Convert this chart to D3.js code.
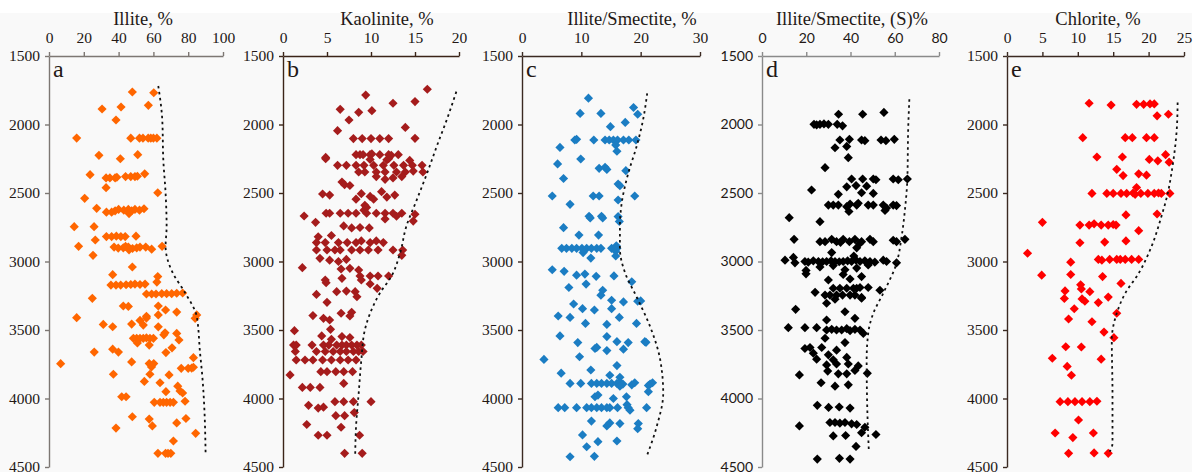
<!DOCTYPE html>
<html>
<head>
<meta charset="utf-8">
<script src="https://cdn.jsdelivr.net/npm/d3@7"></script>
<style>
  body { margin: 0; background: #fff; }
  svg { display: block; }
</style>
</head>
<body>
<svg id="chart" width="1196" height="472"></svg>
<script>
// depth axis (m), shared by all panels
const depthTicks = [1500, 2000, 2500, 3000, 3500, 4000, 4500];

// [value %, depth m]
const illite = [
  [47.9,1763],[60.2,1768],[30.5,1887],[41.4,1872],[57.1,1860],[38.5,1967],[15.9,2099],
  [47,2100],[52,2100],[54,2100],[57,2100],[58.5,2100],[60,2100],[62,2100],
  [28.7,2225],[41,2250],[51,2220],
  [23.6,2366],[32.8,2390],[35,2390],[38,2390],[39,2385],[44,2380],[47,2380],[49.4,2380],[50.8,2378],[55,2360],
  [32.8,2461],[62.5,2498],[20.5,2539],[27.4,2612],
  [33,2640],[36,2640],[38,2630],[40,2620],[43,2625],[45.6,2620],[47.5,2630],[49.4,2620],[52,2625],[54.6,2615],[46,2650],
  [14.5,2746],[25.9,2746],[26.6,2843],[17,2889],
  [33,2818],[36,2818],[38.7,2815],[41.3,2818],[43.8,2818],[50,2815],
  [37.4,2895],[39.8,2902],[42.7,2900],[45.6,2895],[48,2905],[50.4,2900],[52.3,2895],[55.6,2895],[59,2910],[46,2915],[44,2890],
  [65,2889],[25.3,2955],[47.9,3040],[36.6,3096],[62.5,3110],[62,3150],
  [35.6,3172],[38.5,3172],[41.2,3172],[44.3,3170],[47,3168],[49.4,3165],[52.3,3168],[55.2,3165],
  [56,3237],[59,3237],[61.5,3237],[64.8,3235],[67.6,3235],[70.5,3235],[73.4,3232],[76.8,3230],
  [24.9,3269],[42.7,3325],[45.6,3328],[62.8,3325],[67,3354],[73.4,3369],[15.9,3410],[84.9,3390],[56,3400],
  [31.2,3459],[36.6,3476],[47.5,3457],[52.3,3430],[54.2,3464],[56,3413],[62.8,3390],[62.8,3477],[66.7,3520],[66,3535],[73.4,3525],[74.7,3573],[84,3415],
  [48.5,3561],[50.4,3561],[52.3,3561],[54.2,3561],[56,3558],[58,3561],[60,3561],[50.8,3595],[57.6,3610],
  [26,3661],[36.6,3640],[39.9,3661],[67.2,3665],[70.7,3630],[83,3702],[6.7,3746],[47.5,3733],[57.6,3745],[58.9,3770],[60.2,3745],
  [76,3780],[80,3780],[82,3778],[83,3772],[37,3823],[58,3823],[69,3828],[54.8,3875],[63.8,3885],[74,3910],[75.3,3945],[76.8,3960],[67.2,3950],
  [41.8,3987],[44.3,3987],[60.5,4028],[63.8,4028],[65.7,4028],[67.6,4028],[69.6,4028],[71.5,4028],[78.2,4020],
  [47.9,4133],[57.6,4150],[59.4,4200],[78.7,4146],[73.4,4178],[38.5,4216],[84.3,4254],[71.5,4310],[62.6,4400],[67,4400],[68.4,4400],[70,4400]
];
const illiteEnvelope = [[62.8,1719],[65.1,1967],[65.7,2260],[67,2500],[67.6,2745],[67,2890],[71,3080],[78.3,3230],[84.9,3400],[86.8,3666],[88.1,3836],[89.3,4080],[90,4400]];

const kaolinite = [
  [16.4,1743],[9.4,1785],[12.5,1845],[15,1833],[6.5,1889],[8.6,1911],[10.1,1899],[7.5,1967],[6.2,2045],[13.9,2021],[15,2101],
  [8,2103],[9,2103],[10,2103],[11,2103],[12,2103],
  [4.85,2240],[4.85,2250],
  [8.3,2220],[8.75,2220],[9.1,2220],[9.9,2220],[10.1,2215],[11,2220],[12,2220],[12.3,2225],[13.1,2220],
  [9.9,2255],[11.8,2258],[12,2250],[14.4,2262],
  [6.2,2298],[7.2,2298],[8.3,2298],[9.2,2298],[10.3,2298],[11.4,2298],[12.6,2298],[13.7,2298],[14.7,2298],[15.8,2298],
  [8.6,2347],[9.3,2347],[10.6,2347],[11.6,2347],[12.9,2347],[13.9,2347],[14.8,2340],[15.9,2347],
  [10.6,2380],[11.6,2400],[12.5,2390],[13.5,2380],
  [6.7,2420],[7,2440],[7.6,2445],
  [4.5,2507],[5.3,2515],
  [8.9,2505],[9.9,2525],[11.2,2490],[12.7,2515],
  [8.3,2545],[10.3,2545],[11.8,2530],
  [9.3,2590],[9.2,2625],[9.5,2605],
  [2.4,2668],
  [4.9,2648],[5.3,2648],[6.5,2648],[7.4,2648],[8.3,2648],[9.5,2648],[10.6,2648],[11.6,2648],[12.5,2648],[13.5,2648],[15,2655],
  [11.6,2690],[12.9,2670],[14.8,2705],
  [3.7,2714],
  [6.9,2740],[7.8,2755],[8.75,2752],[9.8,2755],
  [4,2820],[5.5,2810],
  [3.8,2862],[4.8,2862],[6.3,2862],[7.3,2862],[8.3,2862],[8.9,2850],[9.9,2862],[10.6,2850],[11.4,2862],
  [3.8,2916],[5,2916],[5.9,2916],[6.5,2916],[7.8,2916],[8.75,2916],[9.7,2916],[10.8,2916],[12.5,2916],[13.6,2916],
  [4.2,2977],[5.3,2990],[6.3,3000],[7.2,2985],[13.5,2955],
  [2.2,3045],[6.6,3055],[7.6,3050],[8.6,3062],
  [8.75,3106],[9.9,3106],[10.8,3106],[12,3106],
  [4.8,3135],[4.9,3155],[6.7,3123],[8.9,3135],[9.9,3164],
  [10.7,3196],
  [6.1,3220],[7.2,3216],[8.2,3220],[8.4,3257],
  [3.8,3240],[5,3298],
  [6.6,3378],[7.8,3371],[7.6,3398],
  [3.4,3395],[4.6,3415],[5.3,3427],
  [1.3,3505],[5.4,3495],[6.7,3548],[7.6,3555],[4.4,3543],[5.5,3568],
  [1.2,3610],[1.5,3610],[3.3,3610],[4.6,3610],[5.2,3610],[6.1,3610],[6.7,3610],[7.2,3610],[7.8,3610],[8.4,3610],[8.9,3610],
  [1.4,3657],[3.8,3657],[4.8,3657],[5.7,3657],[6.5,3657],[7.2,3657],[8,3657],[8.6,3657],[9.1,3657],
  [1.5,3719],[2.5,3719],[3.4,3719],[4.5,3719],[5.5,3719],[6.5,3719],[7.4,3719],[8.3,3719],
  [0.8,3828],
  [4.3,3804],[5,3804],[6,3804],[6.9,3804],[7.9,3804],
  [6.9,3890],
  [2.2,3919],[3.1,3919],[4.2,3919],
  [5.9,4023],[6.9,4023],[8,4023],[10,4023],
  [2.9,4050],[4,4070],[4.6,4063],
  [6,4125],[7,4125],[8.1,4103],
  [2.7,4190],[6.6,4210],
  [4,4268],[5,4268],[8.7,4268],
  [7,4400],[9,4400]
];
const kaoliniteEnvelope = [[19.7,1760],[18.6,1967],[17.6,2137],[16.3,2368],[15.2,2550],[14,2746],[13.3,2940],[12.3,3110],[11,3232],[9.9,3378],[9.3,3500],[8.9,3719],[8.6,3962],[8.3,4205],[8.2,4424]];

const illiteSmectite = [
  [11.2,1808],[9.8,1919],[13.3,1919],[18.8,1876],[19.5,1925],[14.9,2016],[17.4,1985],
  [8.9,2113],[9.2,2108],[12.1,2113],[14,2113],[14.7,2113],[15.4,2113],[16.1,2113],[17.1,2113],[18,2113],[19.2,2113],
  [15.8,2150],[16,2195],[6.4,2167],[9.9,2252],[6,2288],
  [13,2320],[14,2312],[14.3,2328],[17.5,2337],[7,2394],
  [16.2,2434],[16.5,2447],
  [5.1,2522],[19,2522],[12,2522],[13,2522],[16.2,2551],[8.1,2583],
  [11.3,2670],[11.5,2682],[13.4,2670],[13.6,2682],[16.2,2672],[16.4,2708],
  [7,2753],[9.6,2807],[12.9,2807],
  [6.7,2904],[7.5,2904],[8.4,2904],[9.2,2904],[10.1,2904],[10.9,2904],[11.7,2904],[12.6,2904],[13.3,2904],[15.1,2904],[15.7,2904],[16,2904],[10.3,2935],[15.8,2925],[15.9,2885],
  [11.6,2975],[15.8,2960],
  [5.1,3060],[7.1,3072],
  [9.2,3100],[10.6,3092],[12.5,3108],[15.5,3105],
  [10.8,3165],[18.5,3148],[7.9,3190],[13.6,3210],[13.3,3246],
  [8.7,3310],[10.2,3344],[12.2,3354],[15.1,3283],[15.1,3344],[17.1,3295],[20,3288],[19.5,3290],
  [6.1,3398],[8.1,3408],[16.4,3408],
  [10.7,3452],[14.3,3459],[19.3,3452],
  [6.4,3543],[14.3,3548],
  [9.4,3592],[16,3585],[17.9,3592],[20.7,3585],[20.9,3590],
  [12.3,3635],[12.6,3627],[14.3,3650],[17.1,3640],
  [3.7,3715],[9.7,3695],
  [16,3760],[11.6,3792],[14.8,3830],[16.5,3845],[6.6,3815],
  [8.1,3890],[9.9,3890],[11.7,3890],[12.6,3890],[13.4,3890],[14.3,3890],[15.1,3890],[16,3890],[16.5,3880],[17,3895],[18.5,3900],[19,3885],[21.6,3895],[22,3885],[21.3,3905],[16.5,3910],
  [12.3,3987],[12.8,3975],[15.4,4000],[17.6,3987],[21.3,3950],[17.7,4045],
  [6.1,4067],[7.2,4067],[9.2,4067],[10.9,4067],[11.7,4067],[12.6,4067],[13.4,4067],[14.3,4067],[14.8,4067],[16.1,4067],[17.9,4067],[18.2,4085],[21,4067],
  [11.7,4165],[14.3,4200],[14.8,4178],[16.5,4183],[19.6,4183],[19.5,4220],
  [10.2,4266],[10.9,4352],[12.8,4315],[16,4310],
  [8.1,4425],[12.2,4422]
];
const illiteSmectiteEnvelope = [[21.1,1772],[20.4,1967],[19.3,2162],[17.9,2357],[16.8,2575],[16.5,2746],[16.5,2904],[17.4,3086],[19.3,3257],[21.6,3476],[23.3,3719],[23.8,3962],[22.7,4205],[21,4424]];

const smectiteLayers = [
  [34.6,1925],[45.5,1925],[55.1,1912],
  [23.5,1999],[24.7,2003],[26.2,1999],[28,1996],[30,1999],[34,1999],[36.4,2010],
  [35.2,2113],[39.5,2108],[45,2113],[46.5,2118],[53.8,2113],[56,2118],[59.8,2108],
  [33,2170],[38.3,2160],[39,2242],[28.5,2315],[22.4,2478],
  [40.5,2398],[45.5,2398],[50.3,2398],[51.5,2403],[59.3,2398],[61.6,2403],[65.7,2398],
  [38.3,2455],[42.5,2446],[47.3,2450],
  [34.5,2510],[45,2498],[50.3,2503],
  [30,2588],[32.2,2588],[34.5,2588],[39.8,2580],[42.8,2588],[48,2588],[50.3,2588],[54.8,2588],[59.3,2588],[60.8,2592],[38.3,2600],[43.5,2575],[56.3,2610],
  [39.3,2635],[55.6,2628],
  [12.3,2680],[26.2,2709],[14.5,2838],
  [26.2,2855],[28.5,2855],[31.5,2838],[33.7,2855],[36.7,2838],[39.5,2855],[42,2838],[45,2855],[48.8,2838],[50.3,2855],[59.3,2845],[60.8,2855],[64.6,2838],[35.5,2860],[44,2870],
  [42.8,2900],[31.5,2935],
  [10.4,2990],[14.2,2970],[14.9,3010],
  [19.4,3000],[20.9,3005],[23.2,2995],[25.5,3000],[27.4,3002],[29.2,3000],[31.2,2995],[33,3000],[34.9,3002],[36.7,3000],[38.7,2995],[40.5,3000],[42.5,2990],[44.3,3000],[46.5,2995],[48.8,3000],[51,3005],[54.8,2990],[56.3,3000],[60.8,3010],
  [26.2,3040],[32.2,3030],[37.5,3060],[42.8,3048],[48,3025],[41.5,2960],
  [19.9,3065],[19.9,3090],
  [30,3135],[36.7,3095],[39.8,3128],[45,3110],
  [32.2,3195],[35.2,3195],[38.3,3195],[41.3,3195],[42.8,3195],[44.3,3190],[48,3190],[53.3,3210],
  [24,3225],
  [28.5,3245],[30.7,3245],[33.7,3245],[36.4,3245],[39.8,3245],[42,3245],[45,3262],
  [29.2,3305],[33,3275],[45,3268],
  [15.2,3349],[37.5,3367],[42,3415],[29.2,3427],
  [11.9,3483],[19.4,3483],[24.7,3483],
  [29.2,3500],[31.5,3495],[33.7,3500],[36,3500],[38.3,3490],[39.8,3505],[42,3495],[44.3,3500],[45.8,3525],
  [28.5,3560],[37.5,3592],
  [19.4,3635],[21.7,3628],[27,3628],[33.7,3647],
  [23.2,3669],[24.7,3713],[30,3681],[38.3,3700],[32.2,3718],
  [29.2,3755],[33.7,3748],[39,3748],[43.5,3762],
  [29.7,3800],[34.5,3820],[38.3,3820],[42,3795],
  [16.9,3828],[47.6,3816],
  [26.7,3885],[33,3910],[39,3900],
  [25,4050],[30.1,4065],[34.9,4062],[39.8,4070],
  [16.9,4200],
  [30.7,4175],[33,4175],[35.2,4180],[37.5,4175],[40.5,4185],[42.8,4190],
  [32.2,4273],[37.8,4270],[45,4250],[46.5,4210],[51.5,4263],
  [42.5,4350],
  [25,4442],[35,4437],[39.8,4442]
];
const smectiteLayersEnvelope = [[66.6,1816],[66.1,2016],[65.7,2393],[64.6,2624],[63.1,2819],[60.8,3013],[54.8,3232],[50.3,3378],[48,3524],[47.3,3719],[47.6,4084],[48.3,4388]];

const chlorite = [
  [11.6,1845],[14.7,1858],[18.3,1853],[19.3,1853],[20.2,1850],[20.8,1850],[21.2,1937],[22.8,1925],
  [10.7,2096],[16.7,2096],[17.7,2096],[19.7,2096],[20.8,2096],
  [12.7,2237],[16.3,2237],[20.1,2255],[21.3,2265],[22.4,2220],[22.9,2275],
  [15.5,2327],[16.4,2373],[18.6,2360],[19.7,2370],
  [12,2503],
  [14.1,2503],[15,2503],[16.1,2503],[16.9,2503],[17.8,2500],[18.1,2510],[18.9,2503],[19.9,2503],[20.8,2503],[21.4,2500],[21.8,2503],[23,2503],
  [18.3,2460],[21.2,2653],[16.8,2660],[5,2714],
  [10.3,2734],[11.6,2734],[12.3,2725],[13.3,2734],[14.3,2734],[15,2730],[15.4,2734],
  [18.6,2775],[10.3,2863],[13.8,2858],[16.8,2850],
  [2.9,2940],
  [12.9,2985],[13.4,2990],[14.5,2985],[15.5,2985],[16,2985],[16.7,2985],[17.6,2985],[18.6,2985],
  [9,3005],[4.9,3100],[9,3095],[13.5,3110],[16.1,3160],
  [10.4,3170],[10.5,3200],[11.7,3220],[8.2,3215],
  [8.1,3270],[10.6,3273],[11,3290],[12.9,3300],[14.3,3260],
  [9.5,3345],[15.5,3378],[8.7,3420],[12,3440],[13.7,3515],[15.1,3556],
  [8.3,3622],[10.5,3624],[6.4,3706],[13.3,3713],[8.5,3766],[9.1,3830],
  [7.5,4023],[8.6,4023],[9.6,4023],[10.6,4023],[11.7,4023],[12.7,4020],
  [10.1,4157],[6.8,4252],[12.2,4252],[9.3,4285],
  [8.7,4400],[12.3,4397],[14.3,4400]
];
const chloriteEnvelope = [[24.1,1840],[24,2016],[23.3,2332],[22.7,2503],[21.8,2673],[20.4,2892],[18.6,3086],[16.7,3232],[15.5,3378],[14.8,3573],[14.9,3962],[14.9,4327],[14.5,4388]];

const titles = ["Illite, %", "Kaolinite, %", "Illite/Smectite, %", "Illite/Smectite, (S)%", "Chlorite, %"];
const letters = ["a", "b", "c", "d", "e"];
const xTicks = [
  [0, 20, 40, 60, 80, 100],
  [0, 5, 10, 15, 20],
  [0, 10, 20, 30],
  [0, 20, 40, 60, 80],
  [0, 5, 10, 15, 20, 25]
];
const series = [illite, kaolinite, illiteSmectite, smectiteLayers, chlorite];
const envelopes = [illiteEnvelope, kaoliniteEnvelope, illiteSmectiteEnvelope, smectiteLayersEnvelope, chloriteEnvelope];

const serif = "Liberation Serif";
const sans = "Lato";

// layout / style per panel
const layout = [
  { left: 49,  right: 223,  titleX: 143, color: "#ff6600", axis: "#7d7773", tickFont: serif },
  { left: 283, right: 459,  titleX: 387, color: "#a51c1c", axis: "#3b2418", tickFont: serif },
  { left: 522, right: 700,  titleX: 632, color: "#1b7dc3", axis: "#3b2a22", tickFont: serif },
  { left: 762, right: 939,  titleX: 852, color: "#000000", axis: "#8a8a8a", tickFont: sans },
  { left: 1007, right: 1184, titleX: 1098, color: "#ff0000", axis: "#3b2a22", tickFont: serif }
];

const svg = d3.select("#chart");

svg.append("rect")
  .attr("x", 0).attr("y", 13)
  .attr("width", 1192).attr("height", 459)
  .attr("fill", "#f9f9f9");

const y = d3.scaleLinear().domain([1500, 4500]).range([56, 467]);

const diamond = d3.symbol().type(d3.symbolSquare).size(42);

layout.forEach((p, i) => {
  const ticks = xTicks[i];
  const x = d3.scaleLinear().domain([0, ticks[ticks.length - 1]]).range([p.left, p.right]);
  const g = svg.append("g");

  const xAxis = g.append("g")
    .attr("transform", "translate(0,56)")
    .call(d3.axisTop(x).tickValues(ticks).tickFormat(d3.format("d"))
      .tickSize(4).tickSizeOuter(0).tickPadding(9));
  const yAxis = g.append("g")
    .attr("transform", `translate(${p.left},0)`)
    .call(d3.axisLeft(y).tickValues(depthTicks).tickFormat(d3.format("d"))
      .tickSize(4).tickSizeOuter(0).tickPadding(5));

  [xAxis, yAxis].forEach((a) => {
    a.attr("font-family", p.tickFont).attr("font-size", p.tickFont === sans ? 14 : 15.5);
    a.selectAll("path, line").attr("stroke", p.axis).attr("stroke-width", 1.4);
    a.selectAll("text").attr("fill", "#231815");
  });

  g.append("text")
    .attr("x", p.titleX).attr("y", 25)
    .attr("text-anchor", "middle")
    .attr("font-family", serif)
    .attr("font-size", 18.5)
    .attr("fill", "#231815")
    .text(titles[i]);

  g.append("text")
    .attr("x", p.left + 4).attr("y", 77)
    .attr("font-family", serif)
    .attr("font-size", 24)
    .attr("fill", "#231815")
    .text(letters[i]);

  g.selectAll(".pt")
    .data(series[i])
    .join("path")
    .attr("class", "pt")
    .attr("d", diamond)
    .attr("fill", p.color)
    .attr("transform", (d) => `translate(${x(d[0])},${y(d[1])}) rotate(45)`);

  const line = d3.line()
    .x((d) => x(d[0]))
    .y((d) => y(d[1]))
    .curve(d3.curveMonotoneY);

  g.append("path")
    .datum(envelopes[i])
    .attr("d", line)
    .attr("fill", "none")
    .attr("stroke", "#111")
    .attr("stroke-width", 1.8)
    .attr("stroke-dasharray", "2.5,3.5");
});
</script>
</body>
</html>
